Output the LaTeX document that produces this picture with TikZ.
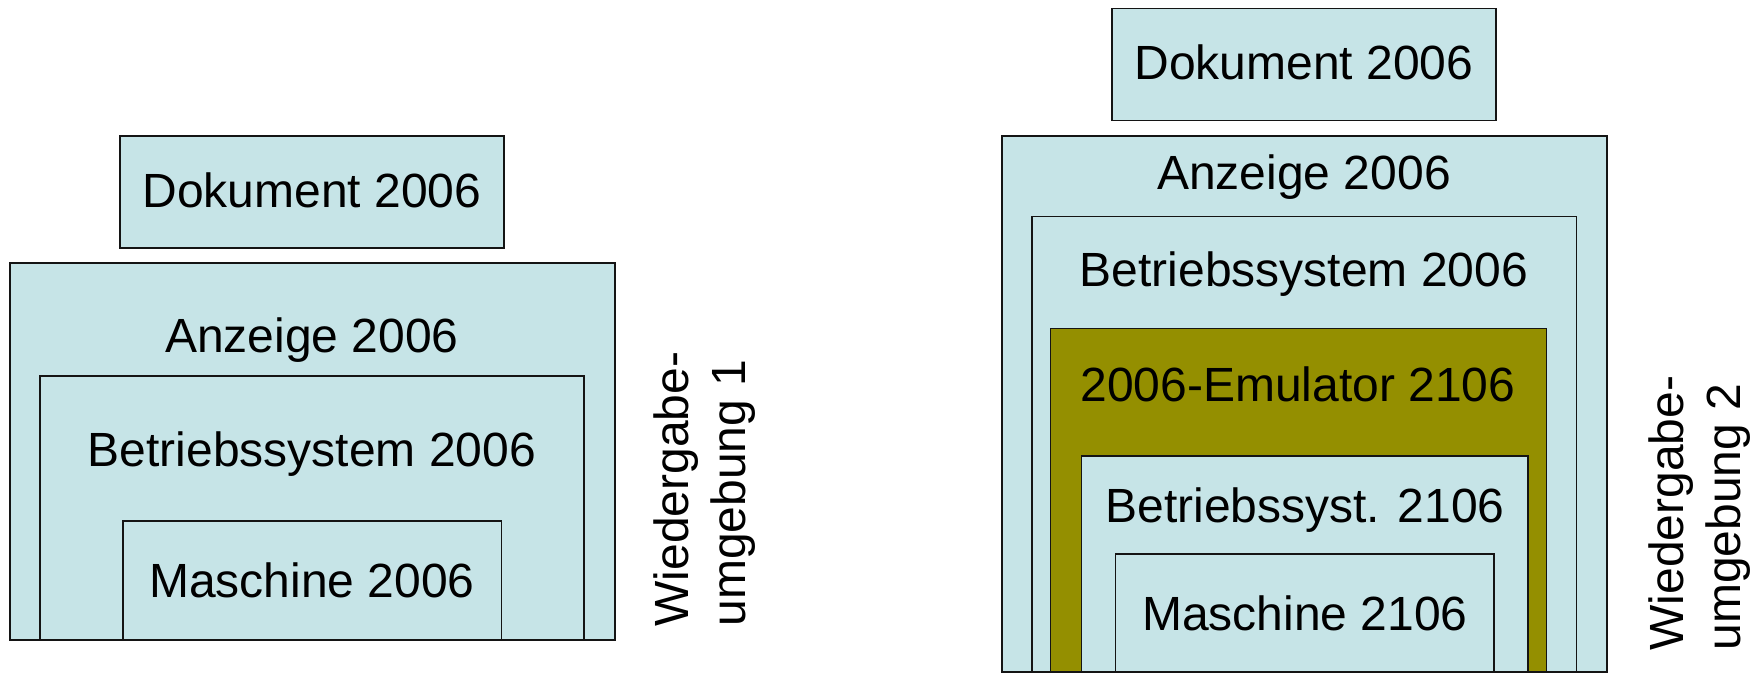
\documentclass[tikz,border=0pt]{standalone}
\usepackage{fontspec}
\setmainfont{Liberation Sans}
\definecolor{boxblue}{RGB}{198,228,231}
\definecolor{olive}{RGB}{148,143,0}
\definecolor{edge}{RGB}{20,20,20}
\tikzset{
  layer/.style={fill=boxblue, draw=edge, line width=0.8pt},
  emulayer/.style={fill=olive, draw=edge, line width=0.8pt},
  lbl/.style={anchor=base, inner sep=0pt, font=\fontsize{24}{28.5}\selectfont},
  vlbl/.style={rotate=90, anchor=north west, inner sep=0pt, align=left, font=\fontsize{24}{28.5}\selectfont}
}
\begin{document}
\begin{tikzpicture}[x=0.5pt,y=-0.5pt]
\useasboundingbox (0,0) rectangle (1757,673);
% ---- left: Wiedergabeumgebung 1
\path[layer] (120,136) rectangle (504,248);
\node[lbl] (ldok) at (312,207.5) {Dokument 2006};
\path[layer] (10,263) rectangle (615,640);
\node[lbl] (lanz) at (312,353) {Anzeige 2006};
\path[layer] (40,376) rectangle (584,640);
\node[lbl] (lbs) at (312,467) {Betriebssystem 2006};
\path[layer] (123,521) rectangle (501.5,640);
\node[lbl] (lma) at (312,597) {Maschine 2006};
\node[vlbl] (lwu) at (653,627) {Wiedergabe-\\umgebung 1};
% ---- right: Wiedergabeumgebung 2
\path[layer] (1112,8.5) rectangle (1496,120.5);
\node[lbl] (rdok) at (1304,80) {Dokument 2006};
\path[layer] (1002,136) rectangle (1607,672);
\node[lbl] (ranz) at (1304,190) {Anzeige 2006};
\path[layer] (1032,216.5) rectangle (1576.5,672);
\node[lbl] (rbs) at (1304,287) {Betriebssystem 2006};
\path[emulayer] (1050.5,328.5) rectangle (1546.5,672);
\node[lbl] (remu) at (1298,401.5) {2006-Emulator 2106};
\path[layer] (1081.5,456) rectangle (1528,672);
\node[lbl] (rbs2) at (1305,522.5) {Betriebssyst. 2106};
\path[layer] (1115.5,554) rectangle (1494,672);
\node[lbl] (rma) at (1305,630) {Maschine 2106};
\node[vlbl] (rwu) at (1648,651) {Wiedergabe-\\umgebung 2};
\end{tikzpicture}
\end{document}
